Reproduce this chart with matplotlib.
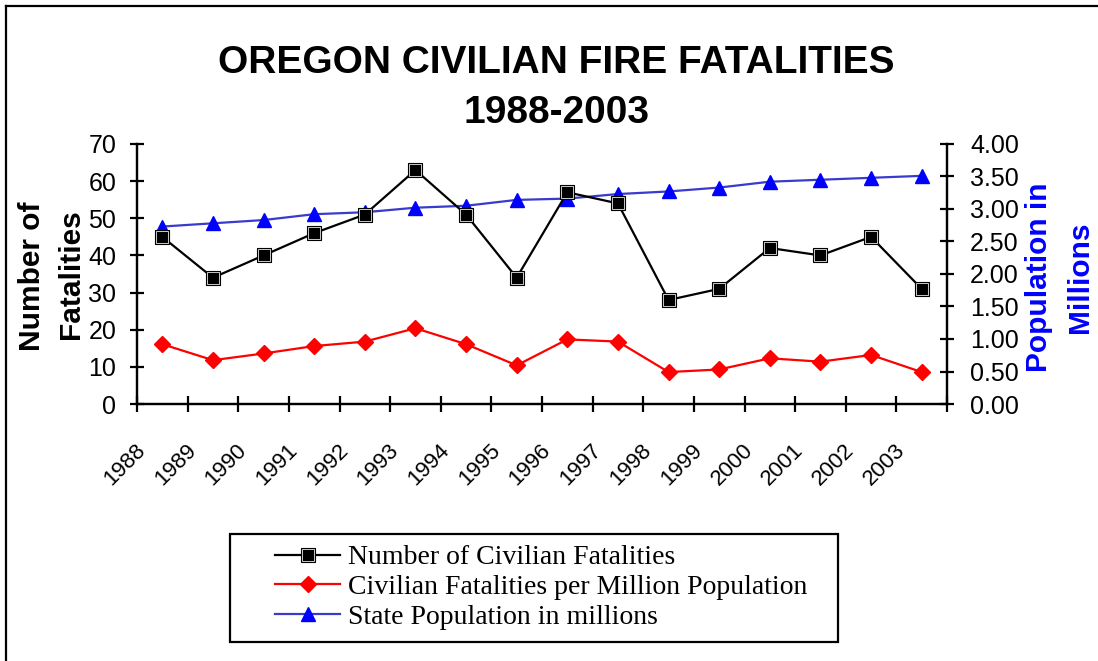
import numpy as np
import matplotlib
matplotlib.use('Agg')
import matplotlib.pyplot as plt
from matplotlib.lines import Line2D
from matplotlib.patches import Rectangle
from matplotlib.transforms import ScaledTranslation

# data
years = ['1988', '1989', '1990', '1991', '1992', '1993', '1994', '1995',
         '1996', '1997', '1998', '1999', '2000', '2001', '2002', '2003']
fatalities = [45, 34, 40, 46, 51, 63, 51, 34, 57, 54, 28, 31, 42, 40, 45, 31]
per_million = [16.1, 11.8, 13.6, 15.6, 16.8, 20.4, 16.1, 10.4,
               17.4, 16.8, 8.6, 9.3, 12.3, 11.4, 13.2, 8.6]
population = [2.73, 2.78, 2.83, 2.92, 2.95, 3.02, 3.05, 3.14,
              3.16, 3.23, 3.27, 3.33, 3.42, 3.45, 3.48, 3.51]

plt.rcParams['font.family'] = 'Liberation Sans'

W, H = 1098, 661
fig = plt.figure(figsize=(W / 100, H / 100), dpi=100)
ax = fig.add_axes([137 / W, 1 - 404 / H, (947 - 137) / W, (404 - 144) / H])
ax2 = ax.twinx()

x = np.arange(len(years))

# black squares: outer black square + inner one with a thin white edge
l1a, = ax.plot(x, fatalities, color='black', lw=1.6, marker='s', ms=10,
               mfc='black', mec='black', mew=0.8, zorder=3)
l1b, = ax.plot(x, fatalities, ls='none', marker='s', ms=8,
               mfc='black', mec='white', mew=0.55, zorder=4)
l2, = ax.plot(x, per_million, color='red', lw=1.6, marker='D', ms=8,
              mfc='red', mec='red', zorder=3)
l3, = ax2.plot(x, population, color='#3a3acc', lw=1.6, marker='^', ms=10,
               mfc='blue', mec='blue', zorder=3)

ax.set_xlim(-0.5, len(years) - 0.5)
ax.set_ylim(0, 70)
ax2.set_ylim(0, 4)
ax.set_yticks(np.arange(0, 71, 10))
ax2.set_yticks(np.arange(0, 4.01, 0.5))
ax2.set_yticklabels(['%.2f' % v for v in np.arange(0, 4.01, 0.5)])

ax.set_xticks(np.arange(len(years) + 1) - 0.5)
ax.set_xticklabels(years + [''])

for a in (ax, ax2):
    for s in a.spines.values():
        s.set_linewidth(1.6)
    a.spines['top'].set_visible(False)
    a.set_zorder(1)
ax.set_zorder(2)
ax.patch.set_visible(False)

ax.tick_params(axis='y', direction='inout', length=10, width=1.6,
               labelsize=18, pad=10)
ax2.tick_params(axis='y', direction='inout', length=10, width=1.6,
                labelsize=18, pad=11.5)
ax.tick_params(axis='x', direction='inout', length=11, width=1.6,
               labelsize=16, pad=20)

offset = ScaledTranslation(-2 / 100, 0, fig.dpi_scale_trans)
for lab in ax.get_xticklabels():
    lab.set_rotation(45)
    lab.set_ha('right')
    lab.set_va('top')
    lab.set_rotation_mode('anchor')
    lab.set_transform(lab.get_transform() + offset)

# title
fig.text(556 / W, 1 - 63 / H, 'OREGON CIVILIAN FIRE FATALITIES',
         ha='center', va='center', fontsize=28, fontweight='bold')
fig.text(557 / W, 1 - 113 / H, '1988-2003',
         ha='center', va='center', fontsize=28, fontweight='bold')

# axis titles
fig.text(32 / W, 1 - 276 / H, 'Number of', rotation=90, ha='center',
         va='center', fontsize=21.5, fontweight='bold')
fig.text(71 / W, 1 - 274 / H, 'Fatalities', rotation=90, ha='center',
         va='center', fontsize=21.5, fontweight='bold')
fig.text(1039 / W, 1 - 277 / H, 'Population in', rotation=90, ha='center',
         va='center', fontsize=21.5, fontweight='bold', color='blue')
fig.text(1080 / W, 1 - 277 / H, 'Millions', rotation=90, ha='center',
         va='center', fontsize=21.5, fontweight='bold', color='blue')

# legend
leg = fig.legend([(l1a, l1b), l2, l3],
                 ['Number of Civilian Fatalities',
                  'Civilian Fatalities per Million Population',
                  'State Population in millions'],
                 loc='upper left', bbox_to_anchor=(275 / W, 1 - 545 / H),
                 frameon=False, prop={'family': 'Liberation Serif', 'size': 20},
                 handlelength=2.35, handletextpad=0.29, labelspacing=0.15,
                 borderpad=0, borderaxespad=0)
fig.patches.append(Rectangle((230 / W, 1 - 642 / H), (838 - 230) / W,
                             (642 - 534) / H, transform=fig.transFigure,
                             fill=False, ec='black', lw=1.6))

# outer frame (left and top edges visible)
fig.add_artist(Line2D([6 / W, 6 / W], [0, 1 - 6 / H], color='black', lw=1.6,
                      transform=fig.transFigure))
fig.add_artist(Line2D([6 / W, 1], [1 - 6 / H, 1 - 6 / H], color='black', lw=1.6,
                      transform=fig.transFigure))

fig.savefig('out.png', dpi=100)
